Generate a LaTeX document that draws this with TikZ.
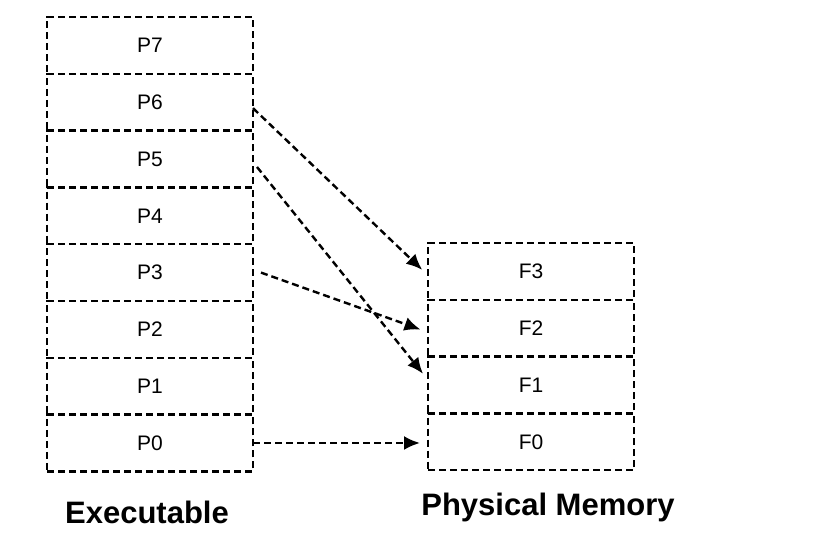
\documentclass[tikz,border=0pt]{standalone}
\usepackage{fontspec}
\setmainfont{Liberation Sans}
\usepackage{tikz}
\usetikzlibrary{positioning,calc,arrows.meta}

\begin{document}
\begin{tikzpicture}[x=0.5pt,y=-0.5pt]
  \tikzstyle{page} = [draw,line width=1.2pt,dash pattern=on 3.5pt off 2pt,minimum width=103pt,minimum height=28.4pt,inner sep=0pt,outer sep=0pt,font=\fontsize{10.5}{12}\selectfont]
  \tikzstyle{caption} = [font=\fontsize{15.5}{18}\selectfont\bfseries]
  \tikzstyle{map} = [line width=1.2pt,dash pattern=on 3.5pt off 2pt,-{Latex[length=8pt,width=7pt]},shorten >=4pt]
  \useasboundingbox (0,0) rectangle (836,544);
  %
  % Executable pages.
  \node[page] (P7) at (150,45.4) {P7};
  \node[page,below=0pt of P7] (P6) {P6};
  \node[page,below=0pt of P6] (P5) {P5};
  \node[page,below=0pt of P5] (P4) {P4};
  \node[page,below=0pt of P4] (P3) {P3};
  \node[page,below=0pt of P3] (P2) {P2};
  \node[page,below=0pt of P2] (P1) {P1};
  \node[page,below=0pt of P1] (P0) {P0};

  % Physical frames.
  \node[page] (F3) at (531,271.4) {F3};
  \node[page,below=0pt of F3] (F2) {F2};
  \node[page,below=0pt of F2] (F1) {F1};
  \node[page,below=0pt of F1] (F0) {F0};

  % Captions.
  \node[caption] (exe) at ([xshift=-1.5pt,yshift=-20.5pt]P0.south) {Executable};
  \node[caption] (mem) at ([xshift=8.5pt,yshift=-18.5pt]F0.south) {Physical Memory};

  % Mappings.
  \draw[map] ([yshift=-3pt]P6.east) -- ([yshift=-2pt]F3.west);
  \draw[map] ([xshift=2pt,yshift=-4pt]P5.east) -- ([yshift=2.5pt]F1.west);
  \draw[map] ([xshift=4pt]P3.east) -- ([yshift=-2pt]F2.west);
  \draw[map] (P0.east) -- (F0.west |- P0.east);
  %
\end{tikzpicture}
\end{document}
